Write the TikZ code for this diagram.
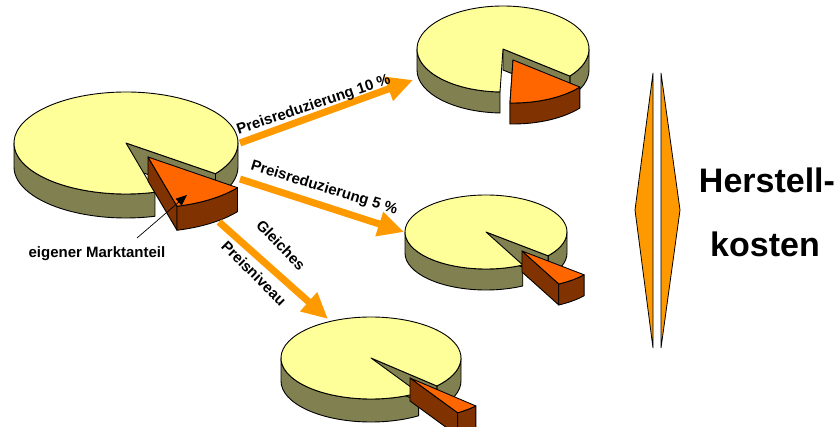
\documentclass[tikz,border=0pt]{standalone}
\usepackage{fontspec}
\setmainfont{Liberation Sans}
\usetikzlibrary{arrows.meta}

\definecolor{gelb}{RGB}{255,255,153}
\definecolor{oliv}{RGB}{128,128,80}
\definecolor{keilorange}{RGB}{255,102,0}
\definecolor{braun}{RGB}{128,51,0}
\definecolor{pfeilorange}{RGB}{255,153,0}

\tikzset{
	deckel/.style={draw, fill=gelb, line width=0.9pt, line join=round},
	mantel/.style={draw, fill=oliv, line width=0.9pt, line join=round},
	keildeckel/.style={draw, fill=keilorange, line width=0.9pt, line join=round},
	keilmantel/.style={draw, fill=braun, line width=0.9pt, line join=round},
	pfeil/.style={draw=pfeilorange, line width=7pt, -{Triangle[length=26pt,width=24pt]}},
	beschriftung/.style={font=\bfseries\fontsize{15}{18}\selectfont, inner sep=0pt},
	kosten/.style={font=\bfseries\fontsize{34}{40}\selectfont, inner sep=0pt},
	raute/.style={draw, fill=pfeilorange, line width=0.8pt, line join=miter},
}

% #1,#2 Mitte, #3,#4 Radien, #5 Hoehe, #6,#7 Winkel des Keils, #8,#9 Verschiebung des Keils
\newcommand{\torte}[9]{
	\begin{scope}[shift={(#1,#2)}]
		\draw[mantel] (#7:#3 and #4) arc[start angle=#7, end angle=180, x radius=#3, y radius=#4]
			-- ++(0,#5) arc[start angle=180, end angle=#7, x radius=#3, y radius=#4] -- cycle;
		\draw[mantel] (0:#3 and #4) arc[start angle=0, end angle=#6, x radius=#3, y radius=#4]
			-- ++(0,#5) arc[start angle=#6, end angle=0, x radius=#3, y radius=#4] -- cycle;
		\draw[mantel] (0,0) -- (#6:#3 and #4) -- ++(0,#5) -- (0,#5) -- cycle;
		\draw[deckel] (0,0) -- (#7:#3 and #4) arc[start angle=#7, end angle={#6+360}, x radius=#3, y radius=#4] -- cycle;
	\end{scope}
	\begin{scope}[shift={(#1+#8,#2+#9)}]
		\draw[keilmantel] (0,0) -- (#7:#3 and #4) -- ++(0,#5) -- (0,#5) -- cycle;
		\draw[keilmantel] (#6:#3 and #4) arc[start angle=#6, end angle=#7, x radius=#3, y radius=#4]
			-- ++(0,#5) arc[start angle=#7, end angle=#6, x radius=#3, y radius=#4] -- cycle;
		\draw[keildeckel] (0,0) -- (#6:#3 and #4) arc[start angle=#6, end angle=#7, x radius=#3, y radius=#4] -- cycle;
	\end{scope}
}

\begin{document}
\begin{tikzpicture}[x=1pt, y=-1pt]
	\useasboundingbox (0,0) rectangle (838,427);
	
	% Torten
	\torte{126}{143}{112}{51}{24}{37}{75}{22}{14}
	\torte{503}{49}{86}{43}{21}{39}{92}{10}{11}
	\torte{486}{232}{81}{37}{21}{40}{63}{36}{19}
	\torte{371}{358}{90}{41}{23}{43}{58}{39}{20}
	
	% Pfeile
	\coordinate (start10) at (240,143);
	\coordinate (ziel10) at (413,80);
	\coordinate (start5) at (240,179);
	\coordinate (ziel5) at (404,232);
	\coordinate (startgleich) at (219,222);
	\coordinate (zielgleich) at (328,319);
	\draw[pfeil] (start10) -- (ziel10);
	\draw[pfeil] (start5) -- (ziel5);
	\draw[pfeil] (startgleich) -- (zielgleich);
	
	\node[beschriftung, anchor=base, rotate=18.5] (red10) at (315,109) {Preisreduzierung 10 \%};
	\node[beschriftung, anchor=base, rotate=-17] (red5) at (323,192) {Preisreduzierung 5 \%};
	\node[beschriftung, rotate=-46] (gleiches) at (281,245) {Gleiches};
	\node[beschriftung, rotate=-45] (niveau) at (254,273) {Preisniveau};
	
	% eigener Marktanteil
	\node[beschriftung, anchor=base] (marktanteil) at (97,258) {eigener Marktanteil};
	\coordinate (anteilstart) at (137,238);
	\coordinate (keil) at (187,195);
	\draw[line width=0.7pt, -{Triangle[length=11pt,width=9pt]}] (anteilstart) -- (keil);
	
	% Herstellkosten
	\draw[raute] (653,73) -- (635,210) -- (653,348) -- cycle;
	\draw[raute] (661,73) -- (680,210) -- (661,348) -- cycle;
	\node[kosten, anchor=base] (herstell) at (767,193) {Herstell-};
	\node[kosten, anchor=base] (kostenlabel) at (765,257) {kosten};
	
\end{tikzpicture}
\end{document}
